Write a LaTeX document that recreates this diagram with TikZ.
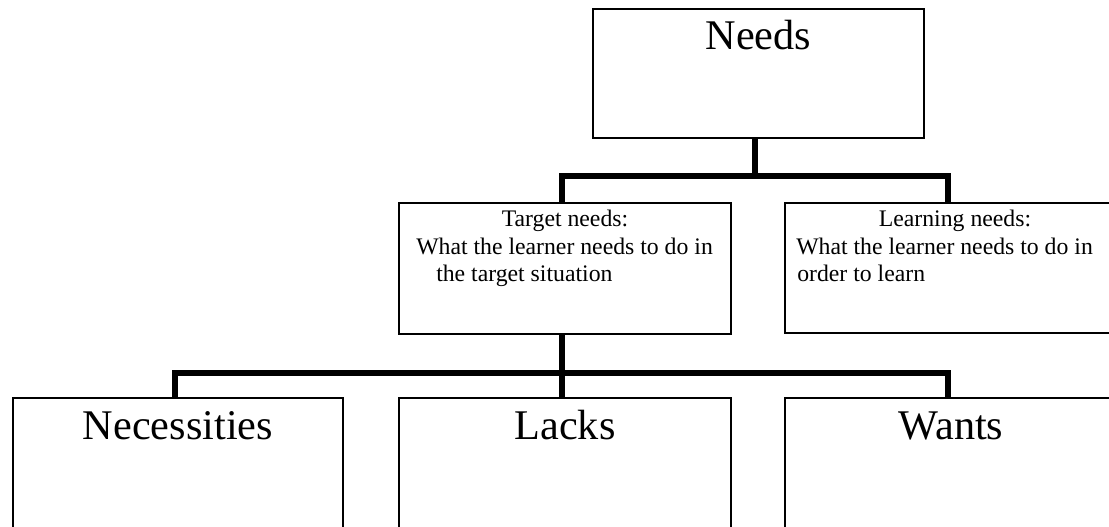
\documentclass[tikz,border=0pt]{standalone}
\usepackage{fontspec}
\setmainfont{Liberation Serif}
\usetikzlibrary{positioning}
\tikzset{
	box/.style={draw, line width=1.5pt, minimum width=332, inner sep=0pt},
	link/.style={line width=4.5pt},
	bigtext/.style={font=\fontsize{31.7}{38}\selectfont, anchor=base, inner sep=0pt},
	smalltext/.style={font=\fontsize{17.8}{21}\selectfont, inner sep=0pt}
}
\begin{document}
\begin{tikzpicture}[x=0.75pt,y=-0.75pt]
	\useasboundingbox (0,0) rectangle (1109,526);
	\clip (0,0) rectangle (1109,526);
	% boxes
	\node[box, minimum width=248.25pt, minimum height=96.75pt] (needs) at (758.5,73.5) {};
	\node[box, minimum width=249pt, minimum height=98.25pt] (target) at (565,268.5) {};
	\node[box, minimum width=249pt, minimum height=97.5pt] (learning) at (951,268) {};
	\node[box, minimum width=247.5pt, minimum height=121.5pt] (necessities) at (178,479) {};
	\node[box, minimum width=249pt, minimum height=121.5pt] (lacks) at (565,479) {};
	\node[box, minimum width=249pt, minimum height=121.5pt] (wants) at (951,479) {};
	% texts
	\path (needs.north) ++(0,41) node[bigtext] {Needs};
	\path (target.north) ++(0,24) node[smalltext, anchor=base] {Target needs:};
	\path (target.north west) ++(18,52) node[smalltext, anchor=base west] {What the learner needs to do in};
	\path (target.north west) ++(38,79) node[smalltext, anchor=base west] {the target situation};
	\path (learning.north) ++(4,24) node[smalltext, anchor=base] {Learning needs:};
	\path (learning.north west) ++(12,52) node[smalltext, anchor=base west] {What the learner needs to do in};
	\path (learning.north west) ++(13,79) node[smalltext, anchor=base west] {order to learn};
	\path (necessities.north) ++(0,42) node[bigtext] {Necessities};
	\path (lacks.north) ++(0,42) node[bigtext] {Lacks};
	\path (wants.north) ++(0,42) node[bigtext] {Wants};
	% connectors
	\draw[link] ([xshift=-3pt]needs.south) -- ++(0,37) coordinate (top bar);
	\draw[link] ([xshift=-2.25pt]target.north) |- (top bar) -| ([xshift=-2.25pt]learning.north);
	\draw[link] ([xshift=-2.25pt]target.south) -- ++(0,38) coordinate (low bar);
	\draw[link] ([xshift=-2.25pt]necessities.north) |- (low bar) -| ([xshift=-2.25pt]wants.north);
	\draw[link] (low bar) -- ([xshift=-2.25pt]lacks.north);
\end{tikzpicture}
\end{document}
